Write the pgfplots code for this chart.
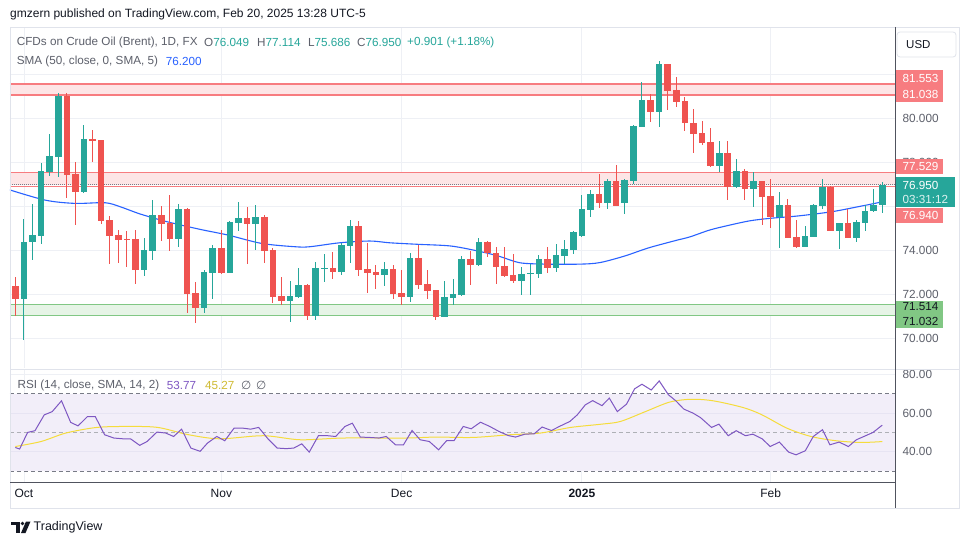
\documentclass[border=0pt]{standalone}
\usepackage{pgfplots}
\pgfplotsset{compat=1.18}
\usepackage{pgfplotstable}
\usepackage{fontspec}
\setmainfont{Liberation Sans}
\newfontfamily\djv{DejaVu Sans}
\definecolor{upc}{HTML}{26A69A}
\definecolor{dnc}{HTML}{EF5350}
\definecolor{smac}{HTML}{2962FF}
\definecolor{rsic}{HTML}{7E57C2}
\definecolor{rsima}{HTML}{F5DC3C}
\definecolor{zr}{HTML}{F77C80}
\definecolor{zrf}{HTML}{FDE5E6}
\definecolor{zg}{HTML}{81C784}
\definecolor{zgf}{HTML}{E6F4E6}
\definecolor{gridc}{HTML}{EEF0F5}
\definecolor{bordc}{HTML}{E0E3EB}
\definecolor{axc}{HTML}{50535E}
\definecolor{txt}{HTML}{131722}
\definecolor{lgray}{HTML}{5D606B}
\definecolor{band}{HTML}{F2EEF9}
\definecolor{dashc}{HTML}{787B86}

\pgfplotstableread{
i o h l c
2 71.79 75.40 69.90 74.36
3 74.36 76.09 73.55 74.68
4 74.66 77.94 74.27 77.59
5 77.56 79.27 77.36 78.27
6 78.24 81.12 77.33 81.01
9 76.65 79.68 76.60 79.05
16 73.09 74.53 72.82 74.00
17 73.97 76.27 73.55 75.59
20 74.50 76.09 74.12 75.86
23 71.38 73.09 71.15 73.00
24 72.97 74.23 71.77 74.08
26 72.97 75.30 72.95 75.26
27 75.24 76.18 74.88 75.47
29 75.17 76.05 74.00 75.52
33 71.70 72.61 70.75 71.91
34 71.88 73.17 71.80 72.41
36 71.02 73.47 70.82 73.17
37 73.15 73.82 72.56 73.20
39 72.99 74.33 72.86 74.23
40 74.18 75.36 73.42 75.09
44 72.86 73.47 72.36 73.14
47 71.88 73.88 71.65 73.62
51 70.97 72.59 70.95 71.85
52 71.83 72.68 71.50 72.00
53 71.95 73.73 71.93 73.59
55 73.32 74.56 73.27 74.38
60 72.59 73.24 71.95 72.89
61 72.92 73.36 71.95 72.97
62 72.91 73.77 72.74 73.59
64 73.17 74.27 73.02 73.77
65 73.74 74.45 73.36 74.05
66 74.00 74.86 73.82 74.82
67 74.65 76.50 74.60 75.86
68 75.82 76.73 75.51 76.55
70 76.15 77.23 75.86 77.14
72 76.15 77.23 75.64 77.18
73 77.15 79.66 77.00 79.64
74 79.60 81.62 79.58 80.82
76 80.29 82.59 79.60 82.45
83 77.82 78.95 77.56 78.39
85 76.88 78.14 76.80 77.59
87 76.77 77.55 75.97 77.14
90 75.51 76.65 74.11 76.05
93 74.15 75.09 74.13 74.64
94 74.60 76.07 74.58 76.05
95 76.02 77.23 75.86 76.88
97 74.88 75.23 74.06 75.21
99 74.56 75.36 74.38 75.26
100 75.24 76.03 74.88 75.77
101 75.77 76.77 75.75 76.05
102 76.049 77.114 75.686 76.950
}\uptab

\pgfplotstableread{
i o h l c
1 72.36 72.77 71.00 71.79
7 81.01 81.12 76.35 77.41
8 77.45 78.02 75.14 76.65
10 79.05 79.45 78.02 78.98
11 79.00 79.02 75.20 75.33
12 75.36 75.55 73.35 74.65
13 74.68 74.91 73.42 74.45
14 74.50 74.86 73.24 74.47
15 74.50 74.91 72.45 73.09
18 75.59 76.00 74.41 75.18
19 75.24 76.50 73.95 74.50
21 75.86 75.90 71.15 72.00
22 72.03 72.56 70.67 71.38
25 74.08 74.91 72.90 72.97
28 75.47 75.97 73.35 75.17
30 75.52 75.59 73.42 73.97
31 74.00 74.08 71.58 71.88
32 71.91 72.79 71.50 71.70
35 72.41 72.45 70.82 71.02
38 73.20 73.91 72.68 72.99
41 75.09 75.32 72.82 73.09
42 73.14 74.33 72.06 72.97
43 72.99 73.32 72.23 72.86
45 73.14 73.32 71.76 72.00
46 72.06 73.09 71.50 71.88
48 73.62 74.23 72.23 72.41
49 72.45 73.09 71.77 72.15
50 72.18 72.20 70.82 70.97
54 73.59 73.95 72.41 73.32
56 74.38 74.40 73.70 73.85
57 73.88 74.15 72.45 73.24
58 73.27 74.15 72.76 72.82
59 72.86 73.82 72.52 72.59
63 73.59 74.15 72.97 73.17
69 76.55 77.45 75.93 76.15
71 77.14 77.86 76.00 76.02
75 80.82 81.09 79.83 80.29
77 82.45 82.47 80.36 81.24
78 81.27 81.88 80.52 80.74
79 80.77 80.97 79.41 79.76
80 79.76 80.39 78.42 79.27
81 79.30 79.86 78.77 78.88
82 78.91 79.53 77.79 77.82
84 78.39 78.95 76.27 76.88
86 77.59 77.70 76.27 76.77
88 77.14 77.16 75.14 76.42
89 76.45 77.21 75.02 75.51
91 76.05 76.32 74.54 74.56
92 74.59 75.36 74.08 74.15
96 76.88 76.90 74.86 74.88
98 75.21 75.85 74.54 74.56
}\dntab

\begin{document}
\begin{tikzpicture}
\useasboundingbox (0,0) rectangle (970pt,-545pt);
\fill[white] (0,0) rectangle (970pt,-545pt);

% ---------------- main price pane ----------------
\begin{axis}[
  at={(10pt,-368pt)}, anchor=south west, scale only axis,
  width=885pt, height=340pt,
  xmin=0.38, xmax=103.48, ymin=68.64, ymax=84.09,
  axis line style={draw=none}, tick style={draw=none},
  xtick={2,25,46,67,89}, xticklabels={},
  ytick={70,72,74,76,78,80,82},
  yticklabels={70.000,72.000,74.000,,78.000,80.000,},
  yticklabel pos=right,
  yticklabel style={anchor=west, xshift=4pt, font=\fontsize{11.8}{13}\selectfont, color=lgray},
  grid=major, major grid style={draw=gridc, line width=0.8pt},
]
% zones
\addplot[fill=zrf, draw=none, forget plot] coordinates {(0.38,81.038)(103.48,81.038)(103.48,81.553)(0.38,81.553)} -- cycle;
\addplot[fill=zrf, draw=none, forget plot] coordinates {(0.38,76.94)(103.48,76.94)(103.48,77.529)(0.38,77.529)} -- cycle;
\addplot[fill=zgf, draw=none, forget plot] coordinates {(0.38,71.032)(103.48,71.032)(103.48,71.514)(0.38,71.514)} -- cycle;
\addplot[zr, line width=1.6pt, forget plot] coordinates {(0.38,81.553)(103.48,81.553)};
\addplot[zr, line width=1.6pt, forget plot] coordinates {(0.38,81.038)(103.48,81.038)};
\addplot[zr, line width=1pt, forget plot] coordinates {(0.38,77.529)(103.48,77.529)};
\addplot[zr, line width=1.4pt, forget plot] coordinates {(0.38,76.90)(103.48,76.90)};
\addplot[zg, line width=1pt, forget plot] coordinates {(0.38,71.514)(103.48,71.514)};
\addplot[zg, line width=1.6pt, forget plot] coordinates {(0.38,71.032)(103.48,71.032)};
\addplot[dashc, densely dotted, line width=1pt, forget plot] coordinates {(0.38,76.97)(103.48,76.97)};
% SMA 50
\addplot[smac, line width=1.1pt, smooth, forget plot] coordinates {
(-0.2,76.80)(4.46,76.27)(7.95,76.12)(11.45,76.15)(13.2,75.97)(15.53,75.64)(18.64,75.29)
(22.52,74.94)(25.78,74.68)(29.7,74.30)(33.6,74.15)(35.3,74.15)(38.8,74.33)(42.3,74.41)
(44.6,74.33)(47.9,74.26)(51.8,74.18)(55.3,73.92)(57.5,73.70)(59.8,73.42)(62.9,73.36)
(66.8,73.36)(69.1,73.43)(72.0,73.73)(74.7,74.09)(77.8,74.42)(79.6,74.60)(81.9,74.91)
(84.3,75.14)(86.6,75.33)(88.9,75.44)(92.2,75.55)(96.1,75.74)(99.2,75.97)(101.5,76.15)(102,76.2)};
% candles: wicks and bodies
\addplot[draw=none, mark=none, forget plot, error bars/.cd, y dir=both, y explicit, error mark=none,
  error bar style={draw=upc, line width=1pt}]
  table[x=i, y expr={(\thisrow{h}+\thisrow{l})/2}, y error expr={(\thisrow{h}-\thisrow{l})/2}] {\uptab};
\addplot[draw=none, mark=none, forget plot, error bars/.cd, y dir=both, y explicit, error mark=none,
  error bar style={draw=upc, line width=6.6pt}]
  table[x=i, y expr={(\thisrow{o}+\thisrow{c})/2}, y error expr={max(abs(\thisrow{c}-\thisrow{o})/2,0.025)}] {\uptab};
\addplot[draw=none, mark=none, forget plot, error bars/.cd, y dir=both, y explicit, error mark=none,
  error bar style={draw=dnc, line width=1pt}]
  table[x=i, y expr={(\thisrow{h}+\thisrow{l})/2}, y error expr={(\thisrow{h}-\thisrow{l})/2}] {\dntab};
\addplot[draw=none, mark=none, forget plot, error bars/.cd, y dir=both, y explicit, error mark=none,
  error bar style={draw=dnc, line width=6.6pt}]
  table[x=i, y expr={(\thisrow{o}+\thisrow{c})/2}, y error expr={max(abs(\thisrow{c}-\thisrow{o})/2,0.025)}] {\dntab};
\end{axis}

% ---------------- RSI pane ----------------
\begin{axis}[
  at={(10pt,-482pt)}, anchor=south west, scale only axis,
  width=885pt, height=113pt,
  xmin=0.38, xmax=103.48, ymin=24.3, ymax=82.9,
  axis line style={draw=none}, tick style={draw=none},
  xtick={2,25,46,67,89}, xticklabels={Oct,Nov,Dec,\textbf{2025},Feb},
  xticklabel style={font=\fontsize{12}{14}\selectfont, color=txt, yshift=-3.5pt},
  ytick={40,60,80}, yticklabels={40.00,60.00,80.00},
  yticklabel pos=right,
  yticklabel style={anchor=west, xshift=4pt, font=\fontsize{11.8}{13}\selectfont, color=lgray},
  grid=major, major grid style={draw=gridc, line width=0.8pt},
]
\addplot[fill=band, draw=none, forget plot] coordinates {(0.38,30)(103.48,30)(103.48,70)(0.38,70)} -- cycle;
\addplot[draw=gridc!80!rsic!60, line width=0.6pt, forget plot] coordinates {(0.38,40)(103.48,40)};
\addplot[draw=gridc!80!rsic!60, line width=0.6pt, forget plot] coordinates {(0.38,60)(103.48,60)};
\addplot[dashc, dash pattern=on 4pt off 3pt, line width=0.8pt, forget plot] coordinates {(0.38,70)(103.48,70)};
\addplot[dashc, dash pattern=on 4pt off 3pt, line width=0.8pt, forget plot] coordinates {(0.38,30)(103.48,30)};
\addplot[dashc!60, dash pattern=on 4pt off 3pt, line width=0.8pt, forget plot] coordinates {(0.38,50)(103.48,50)};
% RSI moving average
\addplot[rsima, line width=1pt, smooth, forget plot] coordinates {
(1,42.7)(4,45.3)(6.9,49.7)(10.5,52.6)(14.1,53.1)(17.6,52.6)(21.2,48.8)(24.8,46.7)(29.9,48.3)
(34.2,46.2)(39.2,47.1)(46.4,47.1)(50,47.6)(54.3,47.4)(58.6,48.8)(62.2,49.7)(65.7,52.6)(69.3,54.3)
(71.5,55.7)(74.4,60.8)(77.2,65.7)(79.7,67.2)(82.3,66.4)(85.8,62.9)(88,59.1)(90.9,52.2)(93.7,47.9)
(96.6,45.7)(99.5,44.8)(102,45.27)};
% RSI
\addplot[rsic, line width=1pt, forget plot] coordinates {
(1.0,42.2)(1.5,41.4)(2.43,50)(3.29,50.9)(4.37,59.1)(5.3,60.8)(6.38,66.4)(7.45,55.2)(8.31,53.4)
(9.39,58.2)(10.32,58.2)(11.4,48.8)(12.48,47.1)(13.55,46.7)(14.42,46.7)(15.49,43.3)(16.35,45.3)
(17.5,50.2)(18.51,49.7)(19.44,47.9)(20.37,51.7)(21.45,41.9)(22.53,40.2)(23.39,44.5)(24.47,47.9)
(25.4,45.7)(26.48,52.2)(27.55,52.2)(28.42,51.7)(29.35,52.6)(30.43,46.7)(31.5,41.9)(32.58,41.6)
(33.44,41.9)(34.37,44.1)(35.24,39.8)(36.31,48.3)(37.39,48.3)(38.32,47.9)(39.4,53.1)(40.26,54.8)
(41.19,47.6)(42.27,47.4)(43.35,47.1)(44.21,47.9)(45.29,43.6)(46.22,43.6)(47.22,51.0)(48.16,46.2)
(49.23,45.3)(50.31,41.0)(51.24,45.7)(52.1,45.7)(53.18,53.1)(54.11,51.9)(55.19,55.3)(56.27,53.1)
(57.35,50.5)(58.42,48.4)(59.28,47.6)(60.36,49.1)(61.44,49.3)(62.37,52.8)(63.45,51.0)(64.52,53.4)
(65.6,55.7)(66.46,59.1)(67.4,64.3)(68.26,66.5)(69.34,63.9)(70.2,67.8)(71.13,60.8)(72.21,64.7)
(73.14,72.6)(74.0,75.0)(75.08,72.0)(76.01,76.7)(77.09,69.5)(77.95,66.4)(78.88,62.1)(79.96,60)
(80.82,57.7)(82.11,52.6)(82.97,54.3)(84.05,48.3)(84.98,50.9)(86.06,48.3)(86.92,49.1)(88.0,46.7)
(88.94,42.7)(90.01,45.0)(91.09,39.8)(91.95,38.4)(93.03,40.5)(93.96,47.9)(95.03,51.4)(95.9,43.6)
(96.97,45.0)(98.05,42.7)(98.98,46.2)(100.06,48.3)(100.92,50.0)(101.99,53.77)};
\end{axis}

% ---------------- frame ----------------
\draw[bordc, line width=0.8pt] (10pt,-27pt) rectangle (959pt,-508pt);
\draw[bordc, line width=0.8pt] (10pt,-369pt) -- (959pt,-369pt);
\draw[axc, line width=0.9pt] (10pt,-482pt) -- (895pt,-482pt);
\draw[axc, line width=0.9pt] (895pt,-27pt) -- (895pt,-508pt);

% ---------------- texts ----------------
\node[anchor=west, inner sep=0, font=\fontsize{12}{14}\selectfont, text=txt] at (10pt,-14.5pt)
  {gmzern published on TradingView.com, Feb 20, 2025 13:28 UTC-5};
\begin{scope}[every node/.style={anchor=west, inner sep=0, font=\fontsize{11.7}{14}\selectfont}]
\node[text=lgray] at (16.7pt,-42pt) {CFDs on Crude Oil (Brent), 1D, FX};
\node[text=lgray] at (204pt,-42pt) {O\textcolor{upc}{76.049}};
\node[text=lgray] at (257pt,-42pt) {H\textcolor{upc}{77.114}};
\node[text=lgray] at (308pt,-42pt) {L\textcolor{upc}{75.686}};
\node[text=lgray] at (357pt,-42pt) {C\textcolor{upc}{76.950}};
\node[text=upc] at (407pt,-42pt) {+0.901 (+1.18\%)};
\node[text=lgray] at (16.7pt,-61pt) {SMA (50, close, 0, SMA, 5)};
\node[text=smac] at (165.7pt,-61pt) {76.200};
\node[text=lgray] at (17.4pt,-385pt) {RSI (14, close, SMA, 14, 2)};
\node[text=rsic] at (166.7pt,-385pt) {53.77};
\node[text=rsima!85!black] at (205pt,-385pt) {45.27};
\node[text=lgray] at (241pt,-385pt) {\djv ∅};
\node[text=lgray] at (256pt,-385pt) {\djv ∅};
\end{scope}

% USD box
\draw[bordc, line width=0.8pt, rounded corners=3pt, fill=white] (897pt,-32pt) rectangle (956pt,-57pt);
\node[anchor=west, inner sep=0, font=\fontsize{11.5}{13}\selectfont, text=txt] at (906pt,-44.5pt) {USD};

% price labels
\begin{scope}[every node/.style={anchor=west, inner sep=0, font=\fontsize{11.7}{13}\selectfont}]
\fill[zr] (895.5pt,-70pt) rectangle (943pt,-86pt);
\node[text=white] at (902.5pt,-78pt) {81.553};
\fill[zr] (895.5pt,-86pt) rectangle (943pt,-101.7pt);
\node[text=white] at (902.5pt,-94pt) {81.038};
\fill[zr] (895.5pt,-159pt) rectangle (943pt,-174pt);
\node[text=white] at (902.5pt,-166.5pt) {77.529};
\fill[upc] (895.5pt,-177pt) rectangle (955pt,-207pt);
\node[text=white] at (902.5pt,-185pt) {76.950};
\node[text=white!85!upc] at (902.5pt,-199pt) {03:31:12};
\fill[zr] (895.5pt,-208pt) rectangle (943pt,-223pt);
\node[text=white] at (902.5pt,-215.5pt) {76.940};
\fill[zg] (895.5pt,-300.7pt) rectangle (943pt,-313.3pt);
\node[text=txt] at (902.5pt,-307pt) {71.514};
\fill[zg] (895.5pt,-313.3pt) rectangle (943pt,-328.3pt);
\node[text=txt] at (902.5pt,-321pt) {71.032};
\end{scope}

% footer logo
\fill[txt] (11pt,-521.5pt) rectangle (19.5pt,-525pt);
\fill[txt] (15.5pt,-521.5pt) rectangle (19.5pt,-533pt);
\fill[txt] (22.5pt,-523.5pt) circle (1.8pt);
\fill[txt] (26pt,-521.5pt) -- (30.5pt,-521.5pt) -- (25.5pt,-533pt) -- (21pt,-533pt) -- cycle;
\node[anchor=west, inner sep=0, font=\fontsize{12.5}{14}\selectfont, text=txt] at (33.5pt,-527.5pt) {TradingView};
\end{tikzpicture}
\end{document}
